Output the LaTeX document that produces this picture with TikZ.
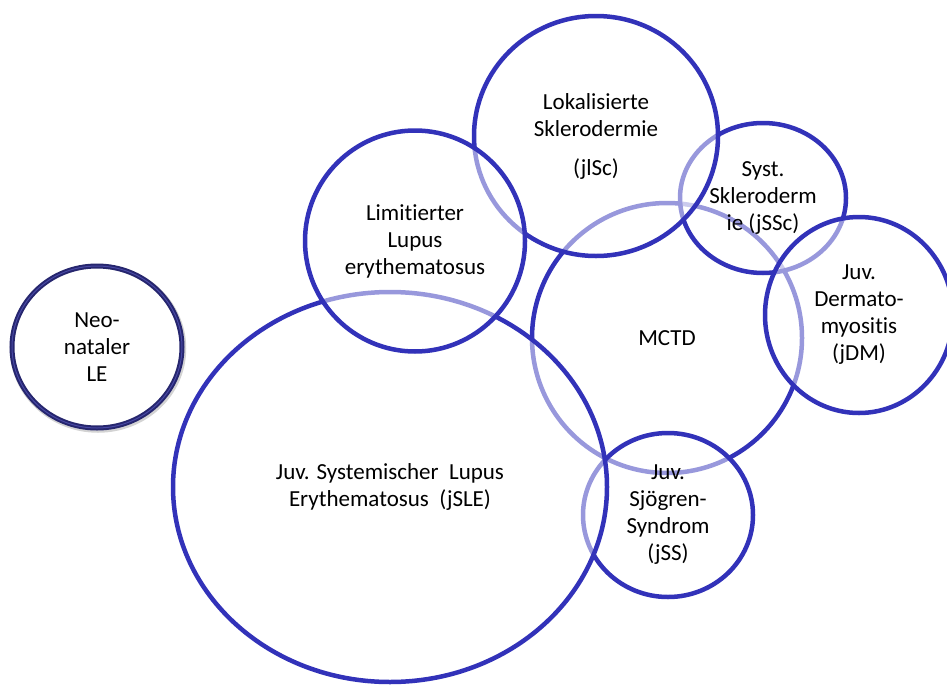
\documentclass[tikz,border=0pt]{standalone}
\usepackage{fontspec}
\setmainfont{Carlito}[Ligatures=NoCommon]
\usetikzlibrary{shapes.geometric}

\definecolor{kreisblau}{RGB}{50,50,185}
\definecolor{neoblau}{RGB}{38,38,110}
\definecolor{neohell}{RGB}{72,72,165}

\tikzset{
  kreis/.style={ellipse, draw=kreisblau, line width=4.5pt, fill=white,
    fill opacity=0.5, text opacity=1, inner sep=0pt, align=center,
    font=\fontsize{23}{27}\selectfont},
  neo/.style={kreis, draw=neoblau, line width=5pt, fill opacity=1,
    preaction={draw=black!50, draw opacity=0.35, line width=6.5pt,
      transform canvas={xshift=1pt, yshift=-1.5pt}},
    postaction={draw=neohell, line width=1pt}},
}

\begin{document}
\begin{tikzpicture}[x=1pt, y=-1pt]
    \useasboundingbox (0,0) rectangle (947,688);

    % 円を描画
    \node[kreis, minimum width=270pt, minimum height=270pt] (A) at (667,338) {MCTD};
    \node[kreis, minimum width=166pt, minimum height=150pt] (B) at (763,198) {Syst.\\Skleroderm\\ie (jSSc)};
    \node[kreis, minimum width=170pt, minimum height=164pt] (C) at (668,515) {Juv.\\Sjögren-\\Syndrom\\(jSS)};
    \node[kreis, minimum width=188pt, minimum height=196pt] (D) at (859,315) {Juv.\\Dermato-\\myositis\\(jDM)};
    \node[kreis, minimum width=244pt, minimum height=240pt] (E) at (596,136) {Lokalisierte\\Sklerodermie\\[12pt](jlSc)};
    \node[kreis, minimum width=434pt, minimum height=390pt] (F) at (390,487) {Juv. Systemischer~ Lupus\\Erythematosus~ (jSLE)};
    \node[kreis, minimum width=220pt, minimum height=221pt] (G) at (415,241) {Limitierter\\Lupus\\erythematosus};
    \node[neo, minimum width=170pt, minimum height=162pt] (H) at (97,347) {Neo-\\nataler\\LE};
\end{tikzpicture}
\end{document}
